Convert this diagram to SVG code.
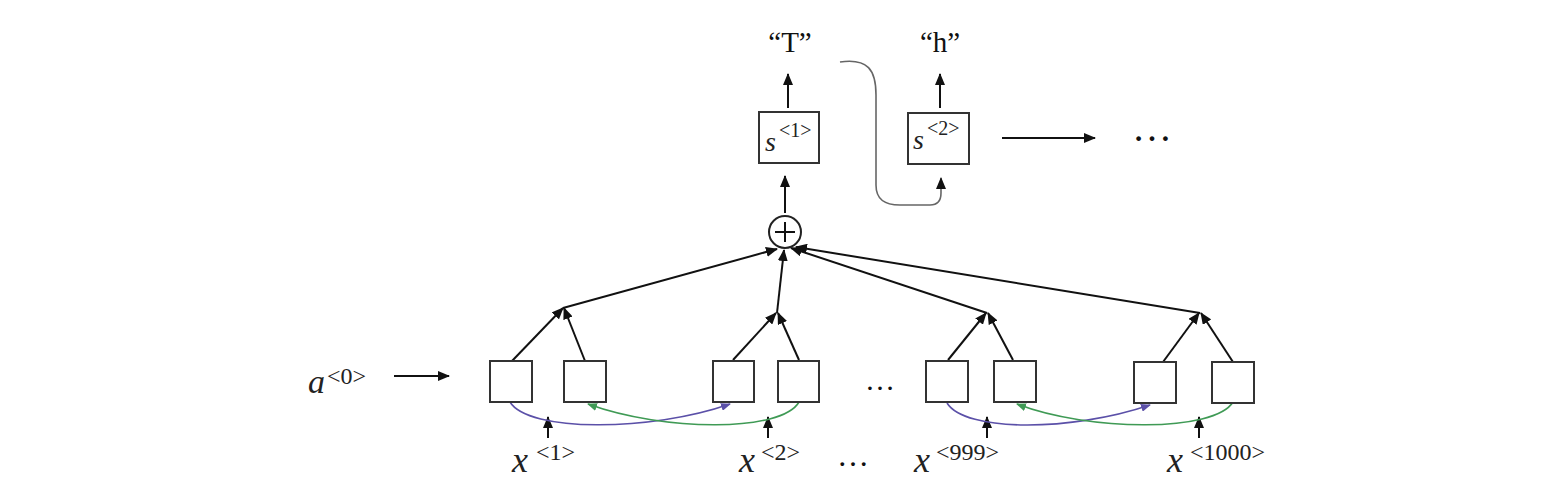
<svg xmlns="http://www.w3.org/2000/svg" width="1568" height="502" viewBox="0 0 1568 502">
<style>
.box{fill:#fff;stroke:#333;stroke-width:2}
.ln{fill:none;stroke:#111;stroke-width:2}
.cv{fill:none;stroke:#666;stroke-width:1.6}
.pu{fill:none;stroke:#5b50a8;stroke-width:1.6}
.gr{fill:none;stroke:#3f9a55;stroke-width:1.6}
.q{font-family:"Liberation Serif",serif;font-size:29px;fill:#111}
.v{font-family:"Liberation Serif",serif;font-style:italic;fill:#222}
.sp{font-family:"Liberation Serif",serif;fill:#222}
.dots{font-family:"Liberation Serif",serif;fill:#111}
</style>
<defs>
<marker id="ah" markerUnits="userSpaceOnUse" markerWidth="12" markerHeight="10" refX="11" refY="5" orient="auto"><path d="M0,0 L12,5 L0,10 z" fill="#111"/></marker>
<marker id="ahp" markerUnits="userSpaceOnUse" markerWidth="10" markerHeight="8" refX="9" refY="4" orient="auto"><path d="M0,0 L10,4 L0,8 z" fill="#5b50a8"/></marker>
<marker id="ahg" markerUnits="userSpaceOnUse" markerWidth="10" markerHeight="8" refX="9" refY="4" orient="auto"><path d="M0,0 L10,4 L0,8 z" fill="#3f9a55"/></marker>
</defs>

<g id="connectors">
<line class="ln" x1="512" y1="361" x2="563" y2="308" marker-end="url(#ah)"/>
<line class="ln" x1="585" y1="361" x2="564" y2="308" marker-end="url(#ah)"/>
<line class="ln" x1="733" y1="360" x2="776" y2="313" marker-end="url(#ah)"/>
<line class="ln" x1="799" y1="360" x2="778" y2="313" marker-end="url(#ah)"/>
<line class="ln" x1="948" y1="360" x2="986" y2="313" marker-end="url(#ah)"/>
<line class="ln" x1="1013" y1="360" x2="988" y2="313" marker-end="url(#ah)"/>
<line class="ln" x1="1163" y1="362" x2="1199" y2="313" marker-end="url(#ah)"/>
<line class="ln" x1="1233" y1="362" x2="1201" y2="313" marker-end="url(#ah)"/>
<line class="ln" x1="563" y1="308" x2="777" y2="249" marker-end="url(#ah)"/>
<line class="ln" x1="777" y1="313" x2="784" y2="250" marker-end="url(#ah)"/>
<line class="ln" x1="987" y1="313" x2="791" y2="248" marker-end="url(#ah)"/>
<line class="ln" x1="1200" y1="313" x2="796" y2="247" marker-end="url(#ah)"/>
<line class="ln" x1="785" y1="213" x2="785" y2="176" marker-end="url(#ah)"/>
<line class="ln" x1="788" y1="108" x2="788" y2="74" marker-end="url(#ah)"/>
<line class="ln" x1="940" y1="108" x2="940" y2="74" marker-end="url(#ah)"/>
<path class="cv" d="M840,62 C868,58 876,70 876,95 L876,185 C876,200 885,205 900,205 L930,205 C938,205 941,200 941,193 L941,178" marker-end="url(#ah)"/>
<line class="ln" x1="1002" y1="138" x2="1095" y2="138" marker-end="url(#ah)"/>
<line class="ln" x1="394" y1="376" x2="449" y2="376" marker-end="url(#ah)"/>
<line class="ln" x1="548" y1="438" x2="548" y2="417" marker-end="url(#ah)"/>
<line class="ln" x1="768" y1="438" x2="768" y2="417" marker-end="url(#ah)"/>
<line class="ln" x1="987" y1="438" x2="987" y2="417" marker-end="url(#ah)"/>
<line class="ln" x1="1199" y1="438" x2="1199" y2="417" marker-end="url(#ah)"/>
<path class="pu" d="M510,402 C528,432 650,432 730,404" marker-end="url(#ahp)"/>
<path class="gr" d="M799,402 C782,432 665,432 588,404" marker-end="url(#ahg)"/>
<path class="pu" d="M947,403 C965,432 1070,432 1150,405" marker-end="url(#ahp)"/>
<path class="gr" d="M1233,402 C1215,432 1090,432 1017,404" marker-end="url(#ahg)"/>
</g>

<g id="sum">
<circle cx="785" cy="232" r="16" fill="#fff" stroke="#222" stroke-width="2"/>
<line class="ln" x1="775" y1="232" x2="795" y2="232"/>
<line class="ln" x1="785" y1="222" x2="785" y2="242"/>
</g>

<g id="s1">
<rect class="box" x="759" y="112" width="60" height="51"/>
<text class="v" x="765" y="151" font-size="28">s</text>
<text class="sp" x="779" y="137" font-size="20">&lt;1&gt;</text>
</g>
<g id="s2">
<rect class="box" x="908" y="113" width="61" height="51"/>
<text class="v" x="913" y="149" font-size="28">s</text>
<text class="sp" x="927" y="135" font-size="20">&lt;2&gt;</text>
</g>

<g id="outT"><text class="q" x="790" y="52" text-anchor="middle">“T”</text></g>
<g id="outh"><text class="q" x="940" y="52" text-anchor="middle">“h”</text></g>
<g id="dotsTop"><text class="dots" x="1132" y="141" font-size="40">…</text></g>

<g id="a0">
<text class="v" x="308" y="393" font-size="34">a</text>
<text class="sp" x="327" y="384" font-size="24">&lt;0&gt;</text>
</g>

<g id="b1"><rect class="box" x="490" y="361" width="42" height="41"/></g>
<g id="b2"><rect class="box" x="564" y="361" width="42" height="41"/></g>
<g id="b3"><rect class="box" x="713" y="361" width="41" height="41"/></g>
<g id="b4"><rect class="box" x="778" y="361" width="41" height="41"/></g>
<g id="b5"><rect class="box" x="926" y="361" width="42" height="41"/></g>
<g id="b6"><rect class="box" x="994" y="361" width="42" height="41"/></g>
<g id="b7"><rect class="box" x="1134" y="362" width="42" height="41"/></g>
<g id="b8"><rect class="box" x="1212" y="362" width="42" height="41"/></g>

<g id="dotsMid"><text class="dots" x="865" y="390" font-size="30">…</text></g>
<g id="dotsLow"><text class="dots" x="837" y="466" font-size="32">…</text></g>

<g id="x1">
<text class="v" x="512" y="472" font-size="36">x</text>
<text class="sp" x="536" y="460" font-size="24">&lt;1&gt;</text>
</g>
<g id="x2">
<text class="v" x="739" y="472" font-size="36">x</text>
<text class="sp" x="761" y="460" font-size="24">&lt;2&gt;</text>
</g>
<g id="x999">
<text class="v" x="914" y="472" font-size="36">x</text>
<text class="sp" x="936" y="460" font-size="24">&lt;999&gt;</text>
</g>
<g id="x1000">
<text class="v" x="1167" y="472" font-size="36">x</text>
<text class="sp" x="1190" y="460" font-size="24">&lt;1000&gt;</text>
</g>
</svg>
